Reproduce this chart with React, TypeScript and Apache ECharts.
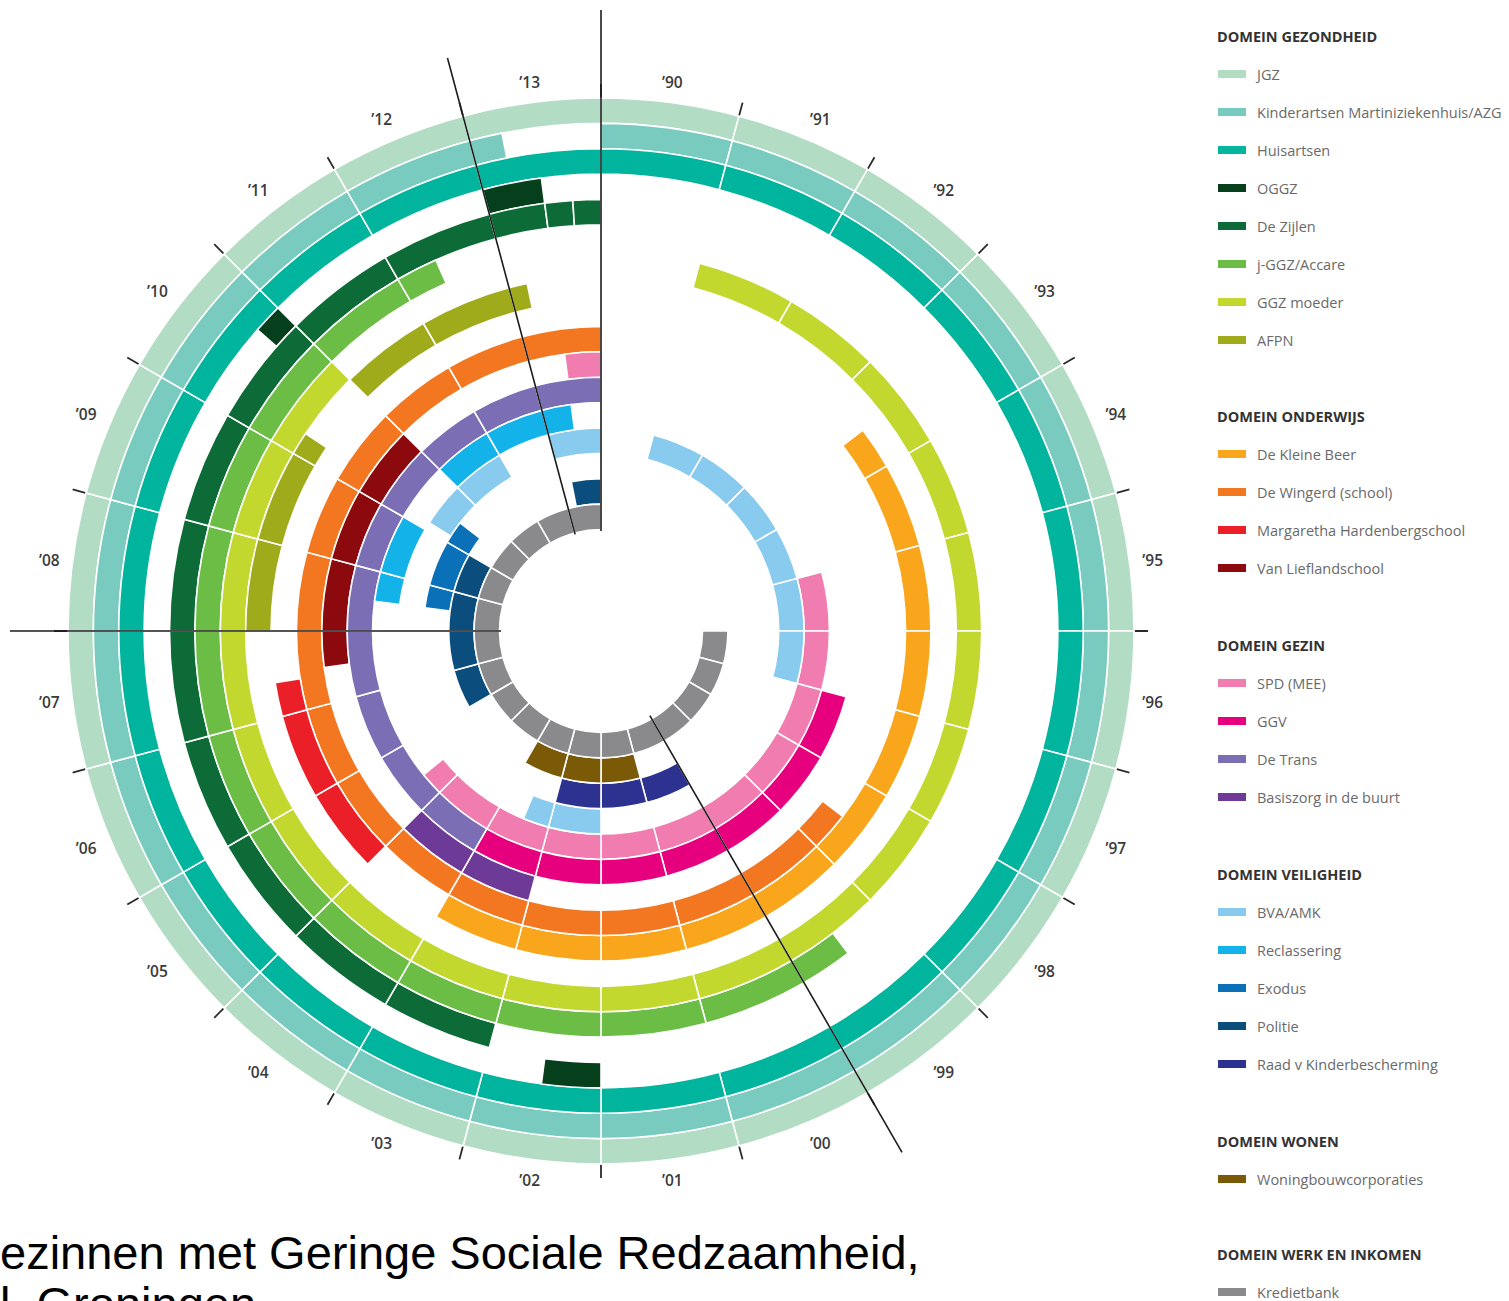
import React, { useEffect, useRef } from "react";
import * as echarts from "echarts";

// ---------- DATA ----------
const YEAR_LABELS = [
  "\u201990", "\u201991", "\u201992", "\u201993", "\u201994", "\u201995",
  "\u201996", "\u201997", "\u201998", "\u201999", "\u201900", "\u201901",
  "\u201902", "\u201903", "\u201904", "\u201905", "\u201906", "\u201907",
  "\u201908", "\u201909", "\u201910", "\u201911", "\u201912", "\u201913",
];
const FIRST_YEAR = 1990;
const LAST_YEAR = 2014;

// periods: [startYear, endYear, lane] (lane 0 = innermost ring)
const JGZ = [[1990, 2014, 16]];
const KINDERARTSEN = [[1990, 2013.25, 15]];
const HUISARTSEN = [[1990, 2014, 14]];
const OGGZ = [[2002, 2002.5, 13], [2010.75, 2011, 13], [2013, 2013.5, 13]];
const DE_ZIJLEN = [[2003, 2013.5, 12], [2013.5, 2013.75, 12], [2013.75, 2014, 12]];
const J_GGZ = [[1999.5, 2012.4, 11]];
const GGZ_MOEDER = [[1991, 2011, 10]];
const AFPN = [[2008, 2010, 9], [2010, 2010.25, 9], [2011, 2013.2, 9]];
const KLEINE_BEER = [[1993.5, 2004, 8]];
const WINGERD = [[1998.5, 2014, 7]];
const MARGARETHA = [[2005, 2007.4, 8]];
const VAN_LIEFLAND = [[2007.5, 2011, 6]];
const SPD = [[1995, 2005.4, 4], [2013.5, 2014, 6]];
const GGV = [[1997, 2004, 5]];
const DE_TRANS = [[2004, 2014, 5]];
const BASISZORG = [[2003, 2005, 6]];
const BVA = [[1991, 1997, 3], [2002, 2003.5, 3], [2010.15, 2012, 3], [2013, 2014, 3]];
const RECLASSERING = [[2008.5, 2010, 4], [2011, 2013.5, 4]];
const EXODUS = [[2008.5, 2010.5, 2]];
const POLITIE = [[2006, 2010, 1], [2013.25, 2014, 1]];
const RAAD = [[2000, 2003, 2]];
const WONING = [[2001, 2004, 1]];
const KREDIETBANK = [[1996, 2014, 0]];

// marker lines: [year, fromRadius, toRadius] in ring units
const MARKER_LINES = [
  [1990, 3.94, 24.47],
  [2008, 3.94, 23.29],
  [2013, 3.94, 23.37],
  [2000, 3.85, 23.72],
];

const SERIES_DEFS = [
  { name: "JGZ", color: "#b2dcc4", periods: JGZ },
  { name: "Kinderartsen Martiniziekenhuis/AZG", color: "#79cbbf", periods: KINDERARTSEN },
  { name: "Huisartsen", color: "#00b49d", periods: HUISARTSEN },
  { name: "OGGZ", color: "#053f1c", periods: OGGZ },
  { name: "De Zijlen", color: "#0c6b36", periods: DE_ZIJLEN },
  { name: "j-GGZ/Accare", color: "#6cbd45", periods: J_GGZ },
  { name: "GGZ moeder", color: "#c2d82f", periods: GGZ_MOEDER },
  { name: "AFPN", color: "#9fab1a", periods: AFPN },
  { name: "De Kleine Beer", color: "#f9a61c", periods: KLEINE_BEER },
  { name: "De Wingerd (school)", color: "#f37721", periods: WINGERD },
  { name: "Margaretha Hardenbergschool", color: "#ea1f27", periods: MARGARETHA },
  { name: "Van Lieflandschool", color: "#8c0a0e", periods: VAN_LIEFLAND },
  { name: "SPD (MEE)", color: "#f07cb0", periods: SPD },
  { name: "GGV", color: "#e6007e", periods: GGV },
  { name: "De Trans", color: "#7b6eb5", periods: DE_TRANS },
  { name: "Basiszorg in de buurt", color: "#6e3a97", periods: BASISZORG },
  { name: "BVA/AMK", color: "#88cbef", periods: BVA },
  { name: "Reclassering", color: "#13b3ea", periods: RECLASSERING },
  { name: "Exodus", color: "#0a71b8", periods: EXODUS },
  { name: "Politie", color: "#0b4d7c", periods: POLITIE },
  { name: "Raad v Kinderbescherming", color: "#2d3290", periods: RAAD },
  { name: "Woningbouwcorporaties", color: "#7b5a07", periods: WONING },
  { name: "Kredietbank", color: "#8a8a8c", periods: KREDIETBANK },
];

const LEGEND_GROUPS = [
  { title: "DOMEIN GEZONDHEID", names: ["JGZ", "Kinderartsen Martiniziekenhuis/AZG", "Huisartsen", "OGGZ", "De Zijlen", "j-GGZ/Accare", "GGZ moeder", "AFPN"], headerY: 36 },
  { title: "DOMEIN ONDERWIJS", names: ["De Kleine Beer", "De Wingerd (school)", "Margaretha Hardenbergschool", "Van Lieflandschool"], headerY: 416 },
  { title: "DOMEIN GEZIN", names: ["SPD (MEE)", "GGV", "De Trans", "Basiszorg in de buurt"], headerY: 645 },
  { title: "DOMEIN VEILIGHEID", names: ["BVA/AMK", "Reclassering", "Exodus", "Politie", "Raad v Kinderbescherming"], headerY: 874 },
  { title: "DOMEIN WONEN", names: ["Woningbouwcorporaties"], headerY: 1141 },
  { title: "DOMEIN WERK EN INKOMEN", names: ["Kredietbank"], headerY: 1254 },
];

const CAPTION_1 = "ezinnen met Geringe Sociale Redzaamheid,";
const CAPTION_2 = "l, Groningen";

// ---------- LAYOUT ----------
const CX = 601;
const CY = 631;
const RING_PX = 533 / 21; // pixels per ring unit
const OUTER_R = 533; // outer edge of the rings (21 units)
const DATA_RADIUS_MAX = 25; // data polar extends past the rings for marker lines
const HOLE = 4;
const UI_FONT = "'Open Sans', 'Noto Sans', sans-serif";

function splitPeriods(periods: number[][]) {
  const out: number[][] = [];
  periods.forEach(([s, e, lane]) => {
    let a = s;
    while (a < e - 1e-9) {
      const nextBoundary = Math.floor(a + 1e-9) + 1;
      const b = Math.min(e, nextBoundary);
      out.push([lane, a, b]);
      a = b;
    }
  });
  return out;
}

const renderSector = (params: any, api: any) => {
  const lane = api.value(0);
  const y0 = api.value(1);
  const y1 = api.value(2);
  const cs = params.coordSys;
  const a = api.coord([lane + HOLE, y0]);
  const b = api.coord([lane + HOLE + 1, y1]);
  return {
    type: "sector",
    shape: {
      cx: cs.cx,
      cy: cs.cy,
      r0: a[2],
      r: b[2],
      startAngle: -a[3],
      endAngle: -b[3],
      clockwise: true,
    },
    style: { fill: api.visual("color"), stroke: "#ffffff", lineWidth: 1.6 },
  };
};

export default function App() {
  const ref = useRef<HTMLDivElement>(null);

  useEffect(() => {
    document.body.style.margin = "0";
    if (!ref.current) return;
    const chart = echarts.init(ref.current, null, { renderer: "svg" });

    const sectorSeries = SERIES_DEFS.map((d) => ({
      type: "custom",
      name: d.name,
      coordinateSystem: "polar",
      polarIndex: 0,
      itemStyle: { color: d.color },
      renderItem: renderSector,
      data: splitPeriods(d.periods),
      silent: true,
      z: 2,
    }));

    const lineSeries = MARKER_LINES.map(([year, r0, r1], i) => ({
      type: "line",
      name: "marker" + i,
      coordinateSystem: "polar",
      polarIndex: 0,
      data: [[r0, year], [r1, year]],
      symbol: "none",
      clip: false,
      silent: true,
      lineStyle: { color: "#1c1c1c", width: 1.6 },
      z: 6,
    }));

    const legends = LEGEND_GROUPS.map((g) => ({
      orient: "vertical",
      left: 1218,
      top: g.headerY + 29,
      padding: 0,
      itemGap: 20,
      itemWidth: 28,
      itemHeight: 8,
      icon: "rect",
      selectedMode: false,
      data: g.names,
      textStyle: {
        fontFamily: UI_FONT,
        fontSize: 14.5,
        lineHeight: 18,
        color: "#6a6a6a",
        padding: [0, 0, 0, 6],
      },
    }));

    const titles = LEGEND_GROUPS.map((g) => ({
      text: g.title,
      left: 1217,
      top: g.headerY - 9,
      padding: 0,
      textStyle: {
        fontFamily: UI_FONT,
        fontSize: 14.5,
        fontWeight: "bold",
        color: "#333",
        lineHeight: 18,
      },
    }));

    chart.setOption({
      animation: false,
      backgroundColor: "#ffffff",
      title: titles,
      legend: legends,
      polar: [
        { center: [CX, CY], radius: [0, RING_PX * DATA_RADIUS_MAX] },
        { center: [CX, CY], radius: [0, OUTER_R] },
      ],
      angleAxis: [
        {
          polarIndex: 0,
          type: "value",
          min: FIRST_YEAR,
          max: LAST_YEAR,
          startAngle: 90,
          clockwise: true,
          show: false,
        },
        {
          polarIndex: 1,
          type: "category",
          data: YEAR_LABELS,
          startAngle: 90,
          clockwise: true,
          boundaryGap: true,
          axisLine: { show: false },
          axisTick: {
            show: true,
            interval: 0,
            length: 14,
            lineStyle: { color: "#2a2a2a", width: 1.8 },
          },
          axisLabel: {
            interval: 0,
            hideOverlap: false,
            margin: 13,
            fontFamily: UI_FONT,
            fontSize: 15.5,
            fontWeight: 600,
            color: "#3a3a3a",
          },
          splitLine: { show: false },
        },
      ],
      radiusAxis: [
        { polarIndex: 0, type: "value", min: 0, max: DATA_RADIUS_MAX, show: false },
        { polarIndex: 1, type: "value", min: 0, max: 21, show: false },
      ],
      graphic: [
        {
          type: "text",
          x: 0,
          y: 1252,
          style: {
            text: CAPTION_1,
            fontSize: 47,
            fontFamily: "'Liberation Sans', Arial, sans-serif",
            fill: "#000",
            align: "left",
            verticalAlign: "middle",
          },
        },
        {
          type: "text",
          x: 0,
          y: 1303,
          style: {
            text: CAPTION_2,
            fontSize: 47,
            fontFamily: "'Liberation Sans', Arial, sans-serif",
            fill: "#000",
            align: "left",
            verticalAlign: "middle",
          },
        },
      ],
      series: [...sectorSeries, ...lineSeries],
    });

    return () => chart.dispose();
  }, []);

  return <div ref={ref} style={{ width: 1509, height: 1301 }} />;
}
